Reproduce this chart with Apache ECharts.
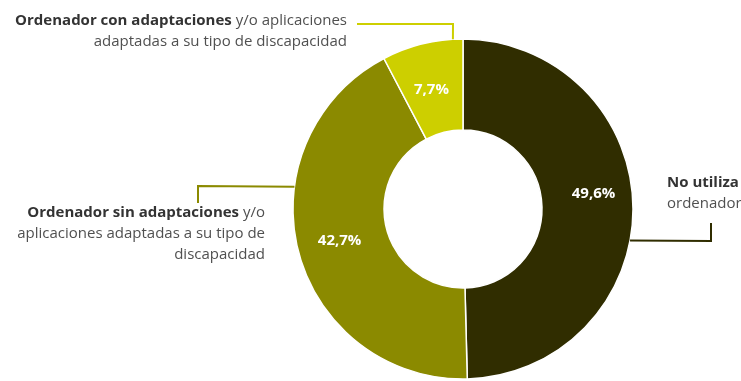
<!DOCTYPE html>
<html>
<head>
<meta charset="utf-8">
<script src="https://cdn.jsdelivr.net/npm/echarts@6/dist/echarts.min.js"></script>
<style>
html,body{margin:0;padding:0;background:#fff;}
#chart{width:741px;height:381px;}
</style>
</head>
<body>
<div id="chart"></div>
<script>
// ---- data ----
var categories = ['No utiliza ordenador', 'Ordenador sin adaptaciones y/o aplicaciones adaptadas a su tipo de discapacidad', 'Ordenador con adaptaciones y/o aplicaciones adaptadas a su tipo de discapacidad'];
var values = [49.6, 42.7, 7.7];
var labelBold = ['No utiliza', 'Ordenador sin adaptaciones', 'Ordenador con adaptaciones'];
var labelRest = ['\nordenador', ' y/o\naplicaciones adaptadas a su tipo de\ndiscapacidad', ' y/o aplicaciones\nadaptadas a su tipo de discapacidad'];

// ---- style / layout ----
var colors = ['#302d00', '#8b8a00', '#cdcf00'];
var CX = 463, CY = 209, R_IN = 79, R_OUT = 170;
var insideOffsets = [[3, -14], [0, 0], [-1, 5]];
// callout layout: anchor angle on outer edge (deg clockwise from top), elbow, label anchor
var callouts = [
  {angle: 100.7, path: [[711, 241], [711, 223]], x: 667, y: 172, align: 'left'},
  {angle: 277.5, path: [[198, 186], [198, 203]], x: 265, y: 202, align: 'right'},
  {angle: -3.4, path: [[453, 24], [357, 24]], x: 347, y: 10, align: 'right'}
];

function edgePoint(a) {
  var r = a * Math.PI / 180;
  return [CX + R_OUT * Math.sin(r), CY - R_OUT * Math.cos(r)];
}

var chart = echarts.init(document.getElementById('chart'), null, {renderer: 'canvas'});

var innerData = values.map(function (v, i) {
  return {name: categories[i], value: v, itemStyle: {color: colors[i]}, label: {offset: insideOffsets[i]}};
});
var outerData = values.map(function (v, i) {
  return {
    name: categories[i], value: v,
    itemStyle: {color: 'rgba(0,0,0,0)'},
    labelLine: {lineStyle: {color: colors[i], width: 2}}
  };
});

chart.setOption({
  animation: false,
  backgroundColor: '#ffffff',
  series: [
    {
      type: 'pie',
      center: [CX, CY],
      radius: [R_IN, R_OUT],
      startAngle: 90,
      clockwise: true,
      silent: true,
      itemStyle: {borderColor: '#ffffff', borderWidth: 1.5},
      label: {
        show: true,
        position: 'inside',
        color: '#ffffff',
        fontFamily: 'Open Sans',
        fontWeight: 'bold',
        fontSize: 15,
        formatter: function (p) { return p.value.toFixed(1).replace('.', ',') + '%'; }
      },
      labelLine: {show: false},
      data: innerData
    },
    {
      type: 'pie',
      center: [CX, CY],
      radius: [R_IN, R_OUT],
      startAngle: 90,
      clockwise: true,
      silent: true,
      z: 3,
      label: {
        show: true,
        position: 'outside',
        overflow: 'none',
        fontFamily: 'Open Sans',
        fontSize: 15,
        lineHeight: 21,
        color: '#505050',
        formatter: function (p) {
          return '{b|' + labelBold[p.dataIndex] + '}' + labelRest[p.dataIndex];
        },
        rich: {
          b: {fontFamily: 'Open Sans', fontWeight: 'bold', fontSize: 15, lineHeight: 21, color: '#333333'}
        }
      },
      labelLine: {show: true, length: 10, length2: 10},
      labelLayout: function (p) {
        var c = callouts[p.dataIndex];
        var pts = [edgePoint(c.angle)].concat(c.path);
        return {x: c.x, y: c.y, align: c.align, verticalAlign: 'top', labelLinePoints: pts};
      },
      data: outerData
    }
  ]
});
</script>
</body>
</html>
